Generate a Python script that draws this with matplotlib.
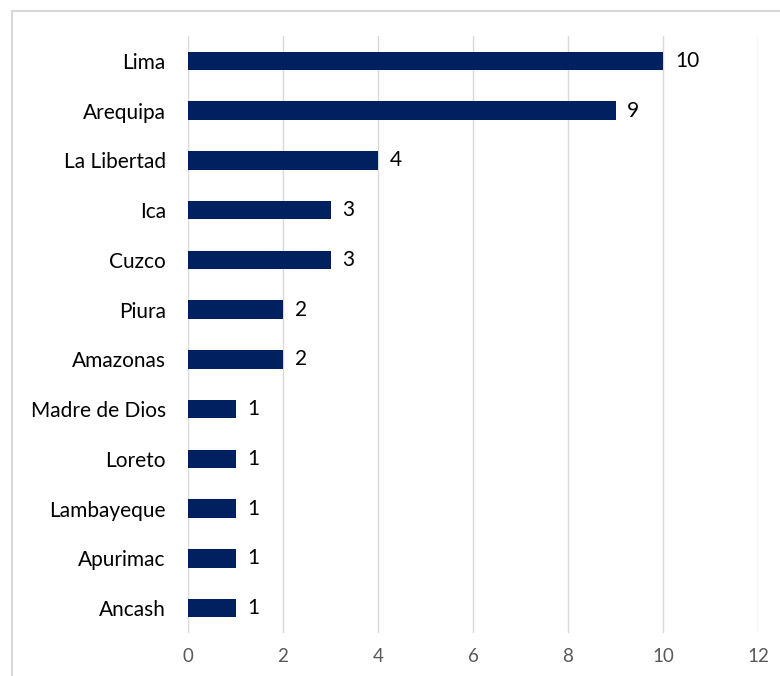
import matplotlib
matplotlib.use("Agg")
import matplotlib.pyplot as plt
from matplotlib.patches import Rectangle

regions = ["Lima", "Arequipa", "La Libertad", "Ica", "Cuzco", "Piura", "Amazonas",
           "Madre de Dios", "Loreto", "Lambayeque", "Apurimac", "Ancash"]
values = [10, 9, 4, 3, 3, 2, 2, 1, 1, 1, 1, 1]
xticks = [0, 2, 4, 6, 8, 10, 12]

plt.rcParams['font.family'] = ['Lato', 'DejaVu Sans']

fig = plt.figure(figsize=(7.8, 6.76), dpi=100)
fig.patch.set_facecolor('white')
# outer frame
fig.patches.append(Rectangle((12/780, -0.01), 1.0, 1 - 11/676 + 0.01,
                             transform=fig.transFigure, fill=False,
                             edgecolor='#d9d9d9', linewidth=1.5, zorder=0))

ax = fig.add_axes([188/780, 1 - 633/676, (758 - 188)/780, (633 - 36)/676])
pos = list(range(len(regions)))
ax.barh(pos, values, height=0.37, color='#002060', zorder=3)
ax.set_ylim(len(regions) - 0.5, -0.5)
ax.set_xlim(0, 12)
ax.set_xticks(xticks)
ax.set_xticklabels([str(t) for t in xticks], color='#595959', fontsize=13.5)
ax.set_yticks(pos)
ax.set_yticklabels(regions, fontsize=15, color='#000000')
ax.tick_params(axis='y', length=0, pad=16)
ax.tick_params(axis='x', length=0, pad=11)
ax.grid(axis='x', color='#d9d9d9', linewidth=1, zorder=0)
for s in ax.spines.values():
    s.set_visible(False)
for p, v in zip(pos, values):
    ax.text(v + 0.25, p, str(v), va='center', ha='left', fontsize=15, color='#000000')

fig.savefig('out.png', dpi=100)
